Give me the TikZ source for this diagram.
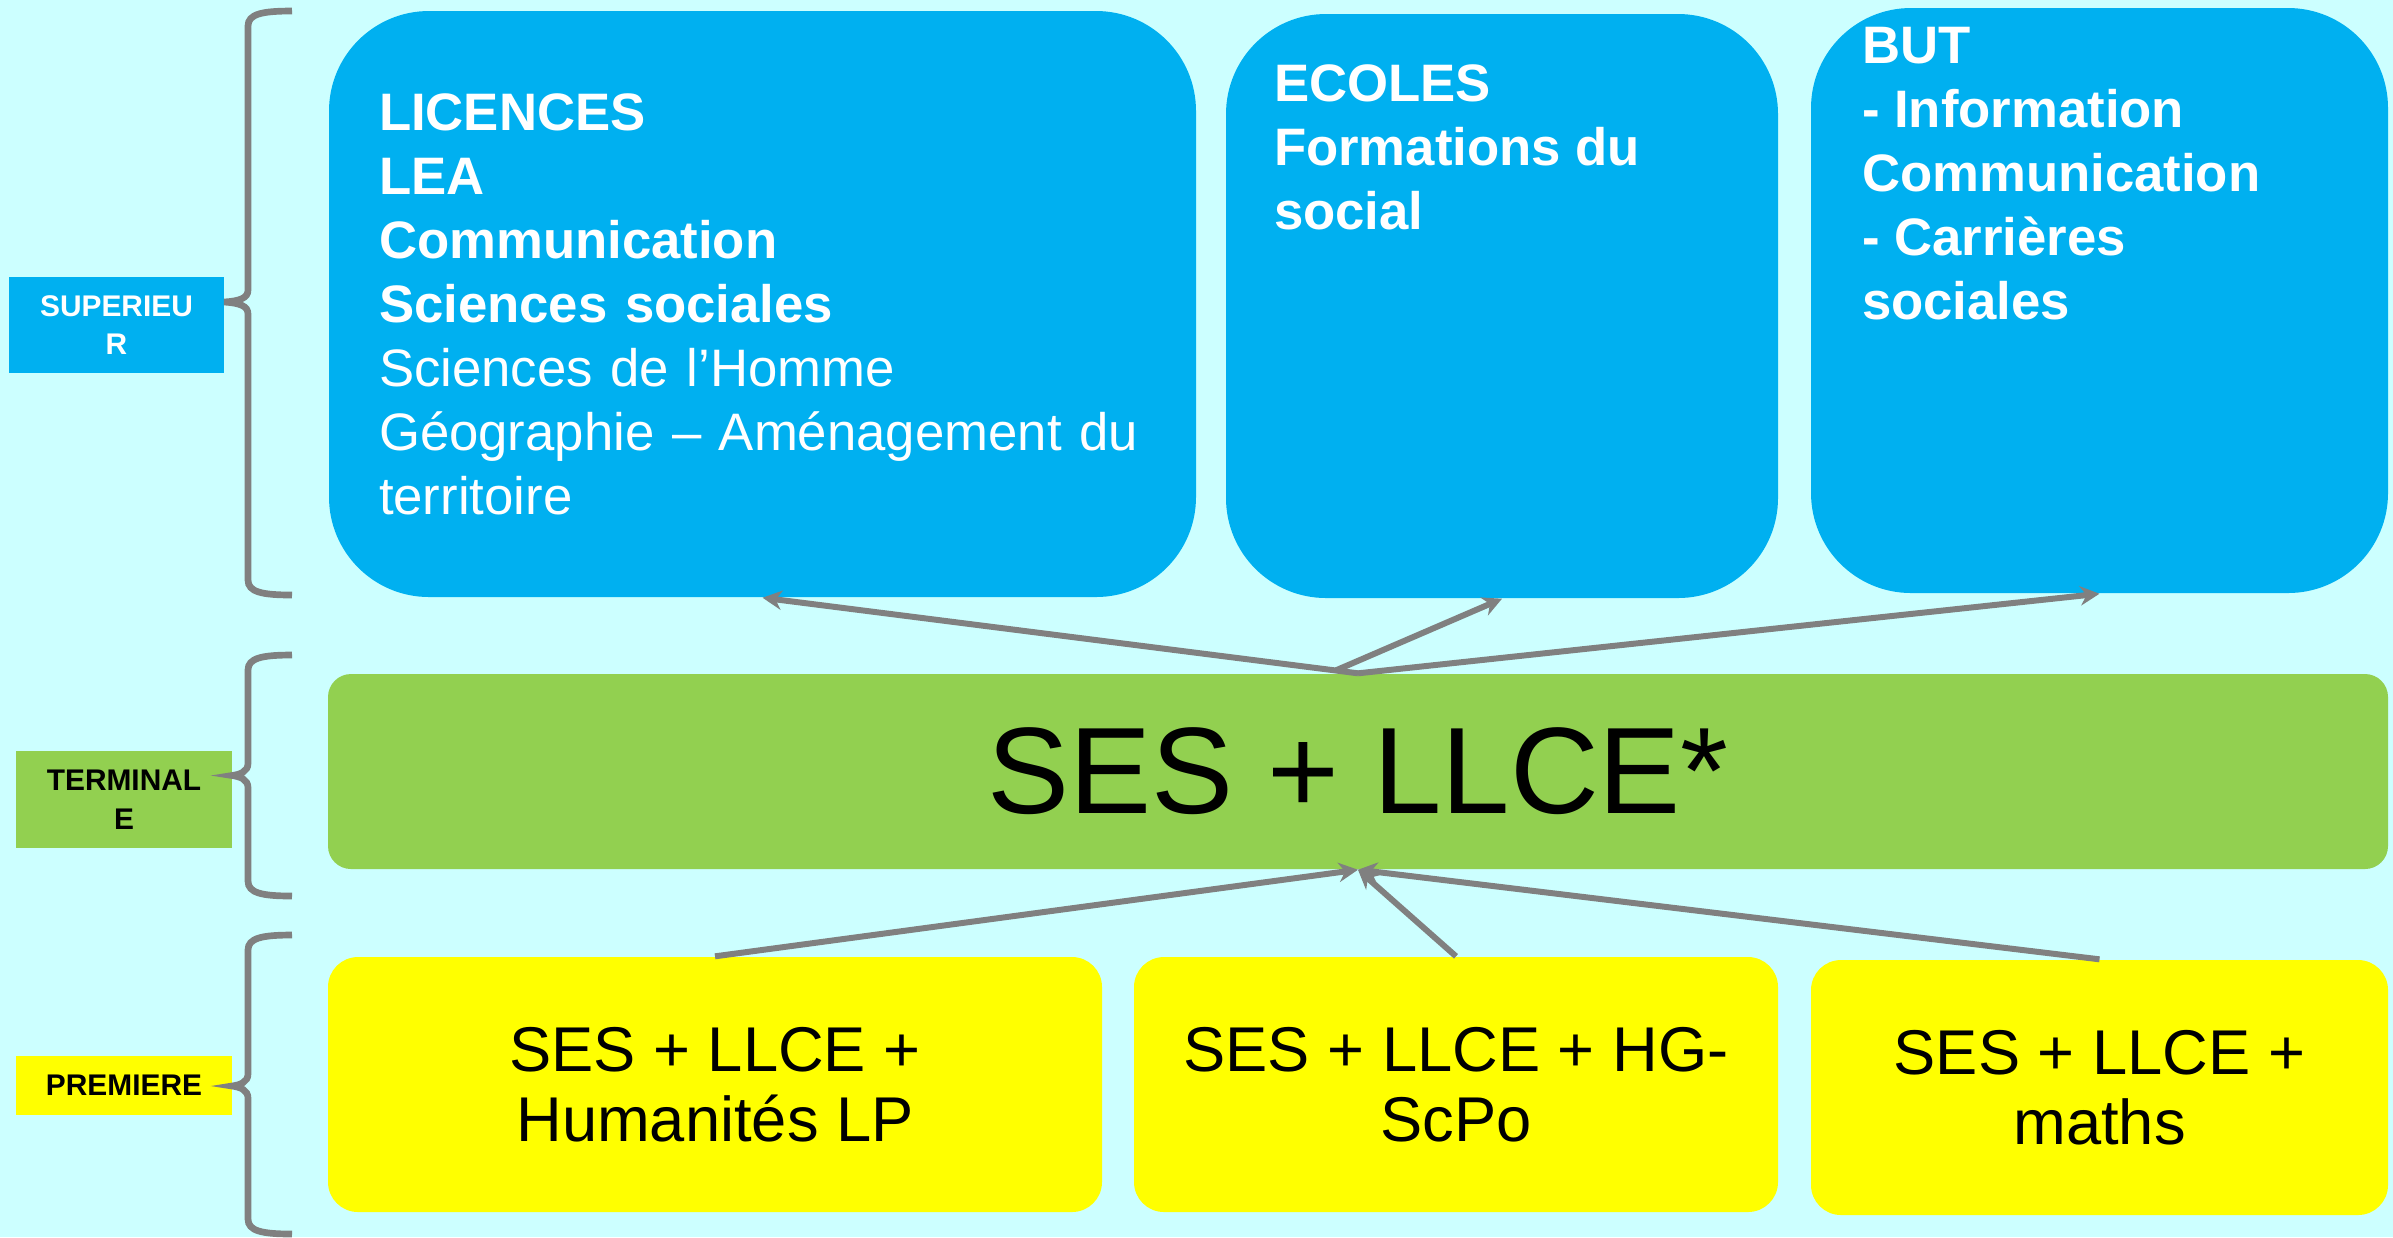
\documentclass[tikz,border=0pt]{standalone}
\usepackage{fontspec}
\setmainfont{Liberation Sans}
\usetikzlibrary{positioning,arrows.meta}
\definecolor{fond}{HTML}{CCFFFF}
\definecolor{bleu}{HTML}{00B0F0}
\definecolor{vert}{HTML}{92D050}
\definecolor{jaune}{HTML}{FFFF00}
\definecolor{gris}{HTML}{808080}

\begin{document}
\begin{tikzpicture}[>={Stealth[length=5.5pt,width=5.5pt]},
		fleche/.style={->,draw=gris,line width=1.7pt},
		accolade/.style={draw=gris,line width=1.9pt},
		niveau/.style={rectangle,inner sep=0,align=center,font=\fontsize{8.5}{11}\selectfont\bfseries},
		bloc/.style={rectangle,rounded corners=1cm,fill=bleu,inner sep=0},
		txtbleu/.style={inner sep=0,text=white,align=left,font=\fontsize{15}{18.2}\selectfont\bfseries},
		choix/.style={rectangle,rounded corners=0.3cm,fill=jaune,inner sep=0,align=center,font=\fontsize{18}{20}\selectfont}]
		\useasboundingbox[fill=fond] (0,0) rectangle (23.93,-12.37);
		% niveaux
		\node[niveau,fill=bleu,text=white,minimum width=2.15cm,minimum height=0.965cm] (sup) at (1.165,-3.25) {SUPERIEU\\R};
		\node[niveau,fill=vert,minimum width=2.16cm,minimum height=0.97cm] (term) at (1.24,-7.995) {TERMINAL\\E};
		\node[niveau,fill=jaune,minimum width=2.16cm,minimum height=0.59cm] (prem) at (1.24,-10.855) {PREMIERE};
		\foreach \h/\m/\b/\p in {-0.11/-3.02/-5.95/2.24, -6.55/-7.755/-8.96/2.32, -9.35/-10.86/-12.34/2.32}
			\draw[accolade] (2.92,\h) .. controls (2.62,\h) and (2.48,\h-0.03) .. (2.48,\h-0.15) -- (2.48,\m+0.12)
				.. controls (2.48,\m+0.04) and (2.40,\m+0.01) .. (\p,\m)
				.. controls (2.40,\m-0.01) and (2.48,\m-0.04) .. (2.48,\m-0.12) -- (2.48,\b+0.15)
				.. controls (2.48,\b+0.03) and (2.62,\b) .. (2.92,\b);
		% superieur
		\node[bloc,minimum width=8.67cm,minimum height=5.86cm,text width=7.67cm,inner xsep=0.5cm,
			text=white,align=left,font=\fontsize{15}{18.2}\selectfont] (licences) at (7.625,-3.04)
			{\textbf{LICENCES}\\\textbf{LEA}\\\textbf{Communication}\\\textbf{Sciences sociales}\\
			Sciences de l’Homme\\Géographie – Aménagement du\\territoire};
		\node[bloc,minimum width=5.52cm,minimum height=5.84cm] (ecoles) at (15.02,-3.06) {};
		\node[txtbleu,below right=0.51cm and 0.48cm of ecoles.north west] (ecolestxt) {ECOLES\\Formations du\\social};
		\node[bloc,minimum width=5.77cm,minimum height=5.85cm] (but) at (20.995,-3.005) {};
		\node[txtbleu,below right=0.19cm and 0.51cm of but.north west] (buttxt) {BUT\\- Information\\Communication\\- Carrières\\sociales};
		% terminale
		\node[rectangle,rounded corners=0.23cm,fill=vert,inner sep=0,minimum width=20.6cm,minimum height=1.95cm,
			font=\fontsize{35}{40}\selectfont] (ses) at (13.58,-7.715) {SES + LLCE*};
		% premiere
		\node[choix,minimum width=7.74cm,minimum height=2.55cm] (y1) at (7.15,-10.845) {SES + LLCE +\\Humanités LP};
		\node[choix,minimum width=6.44cm,minimum height=2.55cm] (y2) at (14.56,-10.845) {SES + LLCE + HG-\\ScPo};
		\node[choix,minimum width=5.77cm,minimum height=2.55cm] (y3) at (20.995,-10.875) {SES + LLCE +\\maths};
		\draw[fleche] (ses.north) -- (licences.south);
		\draw[fleche] ([xshift=-0.22cm,yshift=0.03cm]ses.north) -- (ecoles.south);
		\draw[fleche] (ses.north) -- (but.south);
		\foreach \n in {y1,y2,y3} \draw[fleche] (\n.north) -- (ses.south);
	\end{tikzpicture}
\end{document}
